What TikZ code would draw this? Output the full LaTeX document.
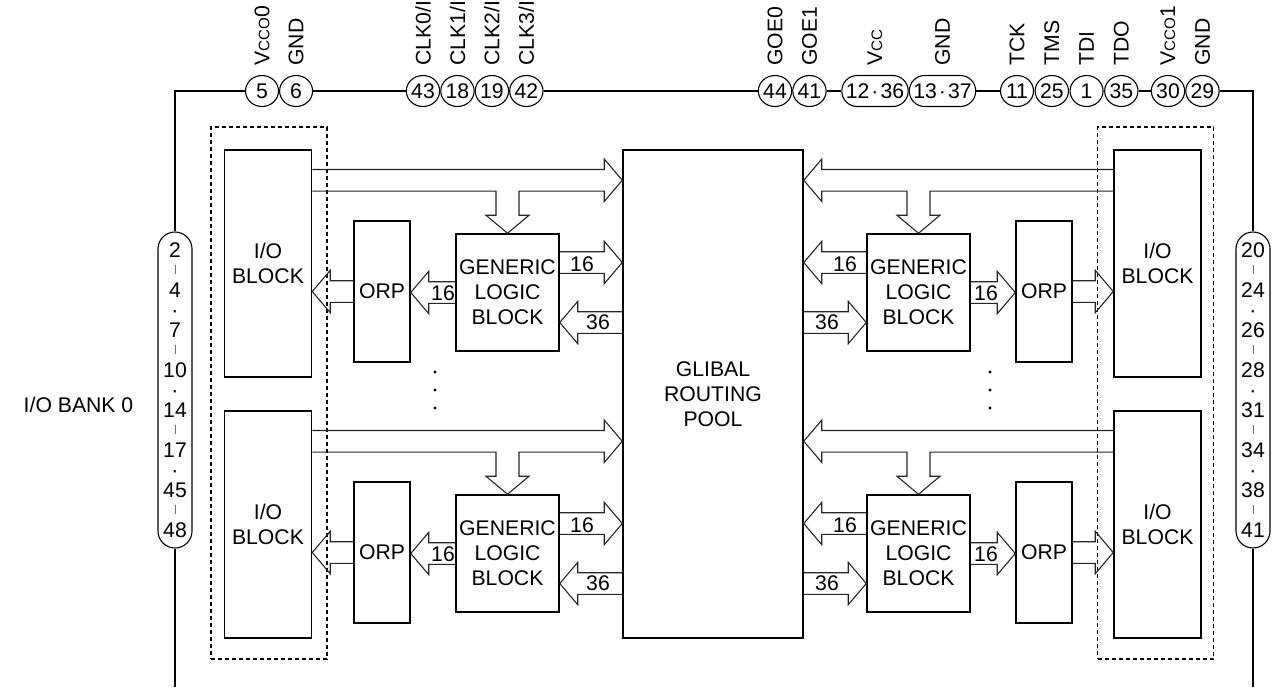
\documentclass[tikz,border=0pt]{standalone}
\usepackage{fontspec}
\setmainfont{Liberation Sans}
\usetikzlibrary{positioning,calc,shapes.geometric}

\newcommand\smc[1]{{\fontsize{7.6}{8}\selectfont #1}}
\newcommand\sbar{\textcolor{black!55}{\rule[1.5pt]{0.4pt}{4.5pt}}}

\newcommand\hfat[2]{%
  \draw[fatline] let \p1=#1, \p2=#2, \n1={ifthenelse(\x2>\x1,1,-1)} in
    (\x1,\y1+5.4pt) -- ({\x2-\n1*9pt},\y1+5.4pt) -- ({\x2-\n1*9pt},\y1+10.6pt)
    -- (\x2,\y1) -- ({\x2-\n1*9pt},\y1-10.6pt) -- ({\x2-\n1*9pt},\y1-5.4pt)
    -- (\x1,\y1-5.4pt);}

\newcommand\fatbus[3]{%
  \draw[fatline] let \p1=#1, \p2=#2, \p3=#3, \n1={ifthenelse(\x2>\x1,1,-1)} in
    (\x1,\y1+5.4pt) -- ({\x2-\n1*9pt},\y1+5.4pt) -- ({\x2-\n1*9pt},\y1+10.6pt)
    -- (\x2,\y1) -- ({\x2-\n1*9pt},\y1-10.6pt) -- ({\x2-\n1*9pt},\y1-5.4pt)
    -- ({\x3+\n1*5.75pt},\y1-5.4pt) -- ({\x3+\n1*5.75pt},\y3+9pt)
    -- ({\x3+\n1*10.75pt},\y3+9pt) -- (\x3,\y3) -- ({\x3-\n1*10.75pt},\y3+9pt)
    -- ({\x3-\n1*5.75pt},\y3+9pt) -- ({\x3-\n1*5.75pt},\y1-5.4pt) -- (\x1,\y1-5.4pt);}

\begin{document}
\begin{tikzpicture}[
x=0.5pt, y=-0.5pt,
font=\fontsize{10.6}{12.5}\selectfont,
box/.style={draw, line width=0.75pt, inner sep=0pt, align=center},
iobox/.style={box, minimum width=43.5pt, minimum height=113.5pt},
orpbox/.style={box, minimum width=28pt, minimum height=70.5pt},
glbbox/.style={box, minimum width=51.5pt, minimum height=58.5pt},
iotext/.style={anchor=north, yshift=-46.5pt, align=center, inner sep=0pt},
dashbox/.style={draw, dash pattern=on 2pt off 1.5pt, line width=0.6pt,
  minimum width=58pt, minimum height=266pt},
pin/.style={ellipse, draw, line width=0.55pt, inner sep=0pt,
  minimum width=16.5pt, minimum height=15.5pt},
dpin/.style={draw, rounded corners=7.7pt, line width=0.55pt, inner sep=0pt,
  minimum width=33.2pt, minimum height=15.5pt},
pinlbl/.style={rotate=90, anchor=west, inner sep=0pt,
  font=\fontsize{10.6}{12.5}\selectfont},
vpill/.style={draw, rounded corners=8.5pt, line width=0.55pt, inner sep=0pt,
  minimum width=17pt, minimum height=158pt, align=center,
  font=\fontsize{10.6}{10}\selectfont},
frame/.style={line width=0.8pt},
fatline/.style={draw=black!85, line width=0.55pt},
num/.style={inner sep=0pt}
]
\useasboundingbox (0,0) rectangle (1288,687);

\node (dashL) [dashbox] at (269,393) {};
\node (dashR) [dashbox] at (1155.5,393) {};

\node (grp) [box, minimum width=90pt, minimum height=244pt] at (713,394)
{GLIBAL\\ROUTING\\POOL};

\foreach \r/\dy in {1/0,2/261}{
  \node (iol\r) [iobox, label={[iotext]north:I/O\\BLOCK}] at (268,263.5+\dy) {};
  \node (orpl\r) [orpbox] at (382,291.5+\dy) {ORP};
  \node (glbl\r) [glbbox] at (507.5,292.5+\dy) {GENERIC\\LOGIC\\BLOCK};
  \node (ior\r) [iobox, label={[iotext]north:I/O\\BLOCK}] at (1157.5,263.5+\dy) {};
  \node (orpr\r) [orpbox] at (1044,291.5+\dy) {ORP};
  \node (glbr\r) [glbbox] at (918.5,292.5+\dy) {GENERIC\\LOGIC\\BLOCK};

  \fatbus{($(iol\r.north east)+(0,31)$)}{(grp.west)}{(glbl\r.north)}
  \hfat{($(glbl\r.east)+(0,-30)$)}{(grp.west)}
  \hfat{($(grp.west |- glbl\r.east)+(0,30)$)}{(glbl\r.east)}
  \hfat{(glbl\r.west)}{(orpl\r.east)}
  \hfat{(orpl\r.west)}{(iol\r.east)}

  \fatbus{($(ior\r.north west)+(0,31)$)}{(grp.east)}{(glbr\r.north)}
  \hfat{($(glbr\r.west)+(0,-30)$)}{(grp.east)}
  \hfat{($(grp.east |- glbr\r.west)+(0,30)$)}{(glbr\r.west)}
  \hfat{(glbr\r.east)}{(orpr\r.west)}
  \hfat{(orpr\r.east)}{(ior\r.west)}

  \node (la\r) [num] at (582,263.7+\dy) {16};
  \node (lb\r) [num] at (598,322+\dy) {36};
  \node (lc\r) [num] at (443,292.7+\dy) {16};
  \node (ra\r) [num] at (845,263.7+\dy) {16};
  \node (rb\r) [num] at (827,322+\dy) {36};
  \node (rc\r) [num] at (986,292.7+\dy) {16};
}

\foreach \yy in {372,390,408}{
  \fill (435,\yy) circle (0.8pt);
  \fill (990,\yy) circle (0.8pt);
}

\node (pin5) [pin] at (262,91) {5};
\node (pin6) [pin, right=0pt of pin5] {6};
\node (pin43) [pin] at (423,91) {43};
\node (pin18) [pin, right=0pt of pin43] {18};
\node (pin19) [pin, right=0pt of pin18] {19};
\node (pin42) [pin, right=0pt of pin19] {42};
\node (pin44) [pin] at (775,91) {44};
\node (pin41) [pin, right=0pt of pin44] {41};
\node (pinvcc) [dpin] at (875,91) {12\hspace{1pt}·\hspace{1pt}36};
\node (pingnd) [dpin, right=0pt of pinvcc] {13\hspace{1pt}·\hspace{1pt}37};
\node (pin11) [pin] at (1017,91) {11};
\node (pin25) [pin, right=0.25pt of pin11] {25};
\node (pin1) [pin, right=0.25pt of pin25] {1};
\node (pin35) [pin, right=0.25pt of pin1] {35};
\node (pin30) [pin] at (1168,91) {30};
\node (pin29) [pin, right=0pt of pin30] {29};

\foreach \p/\t in {5/{V\smc{CCO}0}, 6/GND, 43/{CLK0/I}, 18/{CLK1/I},
  19/{CLK2/I}, 42/{CLK3/I}, 44/GOE0, 41/GOE1, vcc/{V\smc{CC}}, gnd/GND,
  11/TCK, 25/TMS, 1/TDI, 35/TDO, 30/{V\smc{CCO}1}, 29/GND}
  \node (lbl\p) [pinlbl] at ($(pin\p.north)+(0,-9)$) {\t};

\node (pillL) [vpill] at (175,390)
{2\\\sbar\\4\\·\\7\\\sbar\\10\\·\\14\\\sbar\\17\\·\\45\\\sbar\\48};
\node (pillR) [vpill] at (1253,390)
{20\\\sbar\\24\\·\\26\\\sbar\\28\\·\\31\\\sbar\\34\\·\\38\\\sbar\\41};

\node (bank) at (78.5,405) {I/O BANK 0};

\coordinate (tl) at (175,91);
\coordinate (tr) at (1253,91);
\coordinate (bl) at (175,687);
\coordinate (br) at (1253,687);

\draw[frame] (bl) -- (pillL.south);
\draw[frame] (pillL.north) -- (tl) -- (pin5.west);
\draw[frame] (pin6.east) -- (pin43.west);
\draw[frame] (pin42.east) -- (pin44.west);
\draw[frame] (pin41.east) -- (pinvcc.west);
\draw[frame] (pingnd.east) -- (pin11.west);
\draw[frame] (pin35.east) -- (pin30.west);
\draw[frame] (pin29.east) -- (tr) -- (pillR.north);
\draw[frame] (pillR.south) -- (br);

\end{tikzpicture}
\end{document}
